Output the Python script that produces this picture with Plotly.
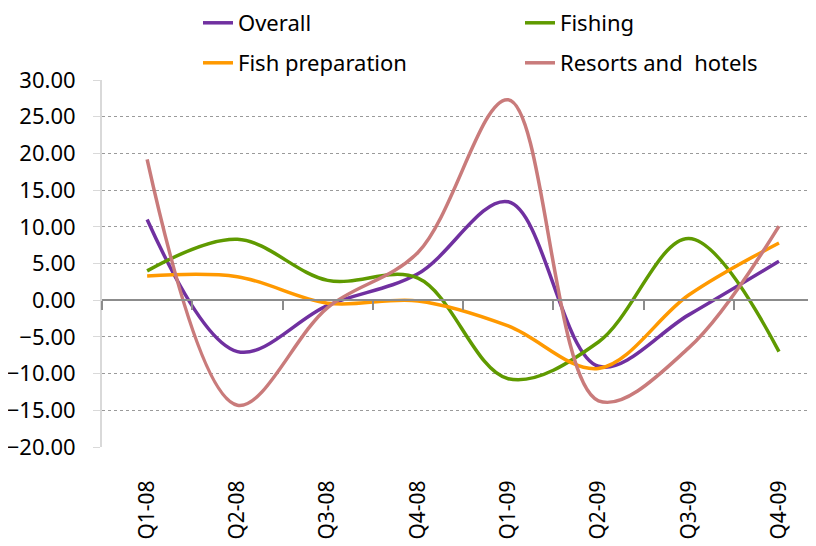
import plotly.graph_objects as go

categories = ["Q1-08", "Q2-08", "Q3-08", "Q4-08", "Q1-09", "Q2-09", "Q3-09", "Q4-09"]
overall = [11.0, -7.0, -0.7, 3.6, 13.4, -9.0, -2.0, 5.3]
fishing = [4.0, 8.3, 2.7, 3.0, -10.7, -5.7, 8.4, -7.0]
fish_prep = [3.3, 3.2, -0.4, -0.1, -3.5, -9.3, 0.7, 7.8]
resorts = [19.2, -14.3, -1.0, 6.5, 27.3, -13.7, -6.5, 10.1]
y_ticks = [30, 25, 20, 15, 10, 5, 0, -5, -10, -15, -20]

FONT = "Noto Sans, Open Sans, sans-serif"

series = [
    ("Overall", overall, "#7030A0", "legend"),
    ("Fishing", fishing, "#5F9A00", "legend2"),
    ("Fish preparation", fish_prep, "#FF9900", "legend3"),
    ("Resorts and  hotels", resorts, "#C97B7B", "legend4"),
]

fig = go.Figure()
for name, vals, color, lg in series:
    fig.add_trace(go.Scatter(
        x=categories, y=vals, name=name, mode="lines",
        line=dict(color=color, width=3.5, shape="spline", smoothing=1.0),
        legend=lg,
    ))

# helper trace on x2 to draw category boundary ticks along the zero line
fig.add_trace(go.Scatter(x=categories, y=[None] * len(categories), xaxis="x2",
                         showlegend=False, hoverinfo="skip"))


def leg(xpx, ypx):
    return dict(
        orientation="h", xref="container", yref="container",
        x=xpx / 816, y=1 - ypx / 546, xanchor="left", yanchor="middle",
        font=dict(family=FONT, size=22), bgcolor="rgba(0,0,0,0)",
    )


fig.update_layout(
    width=816, height=546,
    margin=dict(l=94, r=8, t=72, b=107, autoexpand=False),
    plot_bgcolor="white", paper_bgcolor="white",
    font=dict(family=FONT, size=22, color="black"),
    xaxis=dict(
        type="category", range=[-0.5, 7.41],
        showgrid=False, showline=False, zeroline=False,
        ticks="outside", ticklen=24, tickcolor="rgba(0,0,0,0)",
        tickangle=-90, tickfont=dict(family=FONT, size=21),
    ),
    xaxis2=dict(
        type="category", range=[-0.5, 7.41], overlaying="x",
        anchor="free", position=0.4, side="bottom",
        showgrid=False, zeroline=False, showline=True,
        linecolor="#8C8C8C", linewidth=2,
        ticks="outside", tickson="boundaries", ticklen=9,
        tickcolor="#8C8C8C", tickwidth=2, showticklabels=False,
    ),
    yaxis=dict(
        range=[-20, 30], tickvals=y_ticks, tickformat=".2f",
        showgrid=True, gridcolor="#9A9A9A", griddash="dot", gridwidth=1,
        zeroline=False, showline=True, linecolor="#D9D9D9", linewidth=2,
        ticks="outside", ticklen=7, tickcolor="#D9D9D9",
        tickfont=dict(family=FONT, size=22), ticklabelstandoff=13,
    ),
    legend=leg(190, 15),
    legend2=leg(512, 15),
    legend3=leg(190, 55),
    legend4=leg(512, 55),
)

fig.write_html("out.html")
